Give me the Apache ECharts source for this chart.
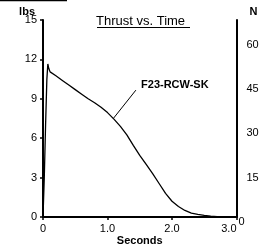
<!DOCTYPE html>
<html>
<head>
<meta charset="utf-8">
<script src="https://cdn.jsdelivr.net/npm/echarts@6/dist/echarts.min.js"></script>
<style>
  html, body { margin: 0; padding: 0; background: #fff; }
  #chart { width: 265px; height: 246px; }
</style>
</head>
<body>
<div id="chart"></div>
<script>
// thrust curve
const times = [0, 0.02, 0.04, 0.06, 0.075, 0.09, 0.11, 0.2, 0.3, 0.4, 0.5, 0.6, 0.7, 0.8, 0.9, 1.0, 1.1, 1.2, 1.3, 1.4, 1.5, 1.6, 1.7, 1.8, 1.9, 2.0, 2.1, 2.2, 2.3, 2.4, 2.5, 2.6, 2.7, 2.8, 2.9, 3.0];
const thrustLbs = [0, 3, 7, 10.5, 11.65, 11.3, 11.05, 10.75, 10.4, 10.05, 9.7, 9.35, 9.0, 8.7, 8.35, 7.95, 7.45, 6.9, 6.25, 5.45, 4.7, 4.0, 3.3, 2.55, 1.8, 1.2, 0.8, 0.5, 0.3, 0.2, 0.12, 0.07, 0.03, 0.01, 0, 0];
const lbsTicks = [0, 3, 6, 9, 12, 15];
const newtonTicks = [0, 15, 30, 45, 60];
const lbfToN = 4.448;
const motorName = 'F23-RCW-SK';
const labelFrom = [1.09, 7.5];
const labelTo = [1.44, 9.66];
const labelAt = [1.52, 10.05];

const font = '"Liberation Sans", Arial, sans-serif';
const chart = echarts.init(document.getElementById('chart'));

chart.setOption({
  animation: false,
  backgroundColor: '#fff',
  title: {
    text: 'Thrust vs. Time',
    left: 96,
    top: 15,
    padding: 0,
    textStyle: { fontFamily: font, fontSize: 13, fontWeight: 'normal', color: '#000' }
  },
  graphic: [
    // underline of the title
    { type: 'line', shape: { x1: 97, y1: 27.5, x2: 190, y2: 27.5 }, style: { stroke: '#000', lineWidth: 1 } },
    // stray rule at the top-left corner
    { type: 'line', shape: { x1: 0, y1: 0.5, x2: 67, y2: 0.5 }, style: { stroke: '#000', lineWidth: 1.5 } }
  ],
  grid: { left: 43, right: 28.5, top: 20, bottom: 29, outerBoundsMode: 'none', containLabel: false },
  xAxis: {
    type: 'value',
    min: 0,
    max: 3,
    interval: 1,
    name: 'Seconds',
    nameLocation: 'middle',
    nameGap: 18,
    nameMoveOverlap: false,
    nameTextStyle: { fontFamily: font, fontSize: 11, fontWeight: 'bold', color: '#000' },
    axisLine: { lineStyle: { color: '#000', width: 2 } },
    axisTick: { show: true, length: 3, lineStyle: { color: '#000', width: 1.5 } },
    splitLine: { show: false },
    axisLabel: {
      fontFamily: font, fontSize: 11, color: '#000', margin: 6,
      alignMaxLabel: 'right',
      formatter: v => v === 0 ? '0' : v.toFixed(1)
    }
  },
  yAxis: [
    {
      type: 'value',
      min: lbsTicks[0],
      max: lbsTicks[lbsTicks.length - 1],
      interval: 3,
      position: 'left',
      name: 'lbs',
      nameLocation: 'end',
      nameGap: 3,
      nameMoveOverlap: false,
      nameTextStyle: { fontFamily: font, fontSize: 11, fontWeight: 'bold', color: '#000', align: 'right', padding: [0, 8, 0, 0] },
      axisLine: { show: true, lineStyle: { color: '#000', width: 2 } },
      axisTick: { show: true, length: 3, lineStyle: { color: '#000', width: 1.5 } },
      splitLine: { show: false },
      axisLabel: { fontFamily: font, fontSize: 11, color: '#000', margin: 6 }
    },
    {
      type: 'value',
      min: 0,
      max: lbsTicks[lbsTicks.length - 1] * lbfToN,
      interval: 15,
      position: 'right',
      name: 'N',
      nameLocation: 'end',
      nameGap: 3,
      nameMoveOverlap: false,
      nameTextStyle: { fontFamily: font, fontSize: 11, fontWeight: 'bold', color: '#000', align: 'left', padding: [0, 0, 0, 13] },
      axisLine: { show: true, lineStyle: { color: '#000', width: 2 } },
      axisTick: { show: false },
      splitLine: { show: false },
      axisLabel: {
        fontFamily: font, fontSize: 11, color: '#000', margin: 2,
        verticalAlign: 'top', lineHeight: 10,
        customValues: newtonTicks,
        formatter: v => v === 0 ? '{z|0}' : '{n|' + v + '}',
        rich: {
          z: { fontFamily: font, fontSize: 11, color: '#000', lineHeight: 10 },
          n: { fontFamily: font, fontSize: 11, color: '#000', lineHeight: 10, padding: [0, 0, 0, 8] }
        }
      }
    }
  ],
  series: [{
    type: 'line',
    data: times.map((t, i) => [t, thrustLbs[i]]),
    showSymbol: false,
    lineStyle: { color: '#000', width: 1.3 },
    markLine: {
      silent: true,
      symbol: 'none',
      label: { show: false },
      lineStyle: { color: '#000', width: 1, type: 'solid' },
      data: [[{ coord: labelFrom }, { coord: labelTo }]]
    },
    markPoint: {
      silent: true,
      symbol: 'circle',
      symbolSize: 0,
      label: {
        show: true, position: 'right', distance: 0,
        formatter: motorName,
        fontFamily: font, fontSize: 11, fontWeight: 'bold', color: '#000'
      },
      data: [{ coord: labelAt }]
    }
  }]
});
</script>
</body>
</html>
